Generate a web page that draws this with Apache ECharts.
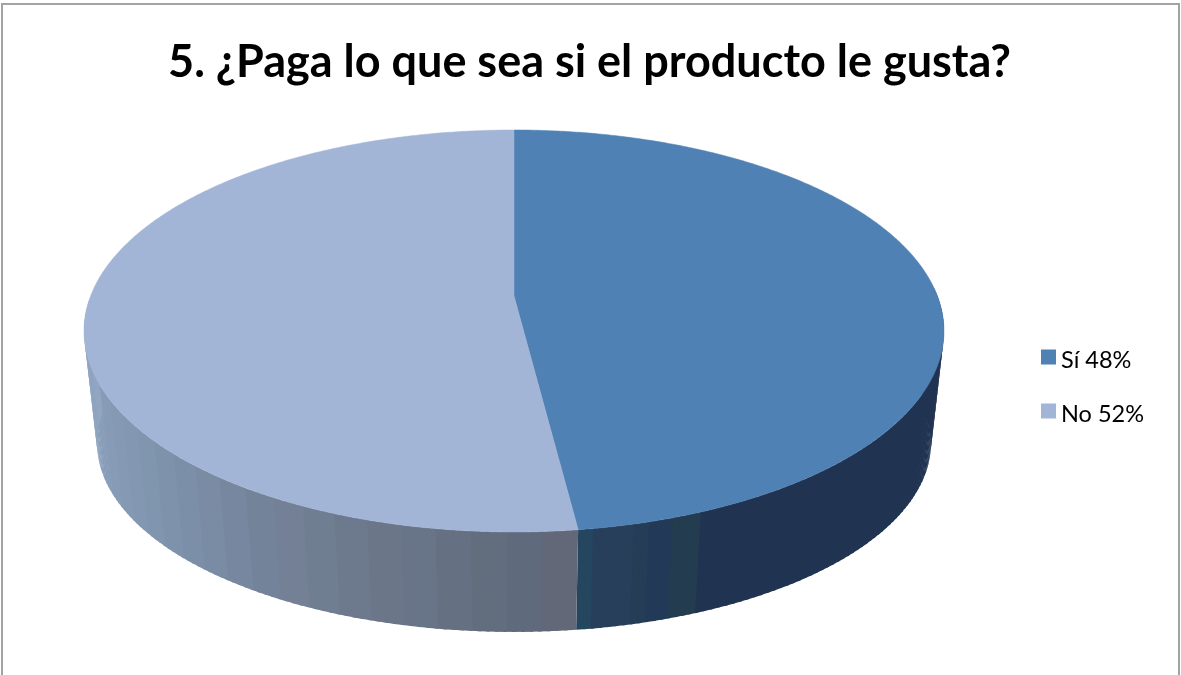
<!DOCTYPE html>
<html>
<head>
<meta charset="utf-8">
<script src="https://cdn.jsdelivr.net/npm/echarts@6/dist/echarts.min.js"></script>
<style>html,body{margin:0;padding:0;background:#fff;overflow:hidden}#c{width:1181px;height:675px}</style>
</head>
<body>
<div id="c"></div>
<script>
const titleText = '5. ¿Paga lo que sea si el producto le gusta?';
const categories = ['Sí 48%', 'No 52%'];
const shares = [48, 52];
const topColors = ['#4f81b4', '#a2b5d6'];

// Side-wall shading: each band is [angle it runs to, colour], going away from the slice edge.
const wallBandsSi = [
  [171.1, '#24465f'], [166.4, '#273f5b'], [164.6, '#253d56'],
  [161.8, '#223a57'], [158.3, '#243c50'], [88, '#203452']
];
const wallColoursNo = [
  '#636879', '#5f6a7c', '#626d7e', '#657082', '#687487', '#6b7689', '#6d7a8d', '#707e91',
  '#738096', '#73849a', '#7787a0', '#7a8ba4', '#7c8fa8', '#7f92ab', '#8095ae', '#8397b2',
  '#8599b3', '#879bb7', '#889eb8', '#8b9fbb', '#8ba1bc', '#8ea3bf', '#8fa4c0', '#92a6c3'
];

// Perspective projection of the disc's top and bottom faces.
const PERSPECTIVE = 0.174;
const topFace = { cx: 514, cy: 296, rx: 423.4, ry: 194.9 };
const bottomFace = { cx: 514, cy: 410, rx: 410.6, ry: 183.3 };
function project(face, deg) {
  const t = deg * Math.PI / 180, u = Math.sin(t), v = -Math.cos(t), d = 1 - PERSPECTIVE * v;
  return [face.cx + face.rx * u / d, face.cy + face.ry * v / d];
}
const total = shares.reduce((a, b) => a + b, 0);
const starts = shares.map((s, i) => shares.slice(0, i).reduce((a, b) => a + b, 0) * 360 / total);
const ends = shares.map((s, i) => starts[i] + s * 360 / total);

function arc(face, a, b) {
  const n = Math.max(2, Math.ceil(Math.abs(b - a) * 2)), pts = [];
  for (let i = 0; i <= n; i++) pts.push(project(face, a + (b - a) * i / n));
  return pts;
}
// A band is cut into thin quads, painted overlapping, so their union reaches the true
// outline of the disc without seams.
function wallPiece(a, b, color) {
  const n = Math.max(1, Math.ceil(Math.abs(b - a))), dir = Math.sign(b - a), out = [];
  for (let i = 0; i < n; i++) {
    const p = a + (b - a) * i / n, q = a + (b - a) * (i + 1) / n + dir * 0.4;
    out.push({ type: 'polygon',
      shape: { points: [project(topFace, p), project(topFace, q), project(bottomFace, q), project(bottomFace, p)] },
      style: { fill: color } });
  }
  return out;
}
function wallPieces(index) {
  let out = [];
  if (index === 0) {
    let a = ends[0];
    wallBandsSi.forEach(b => { out = out.concat(wallPiece(a, b[0], b[1])); a = b[0]; });
  } else {
    const step = 4;
    wallColoursNo.forEach((c, i) => {
      out = out.concat(wallPiece(starts[1] + i * step, starts[1] + (i + 1) * step, c));
    });
  }
  return out;
}
function topPiece(index) {
  const pts = [[topFace.cx, topFace.cy]].concat(arc(topFace, starts[index], ends[index]));
  return { type: 'polygon', shape: { points: pts },
    style: { fill: topColors[index], stroke: topColors[index], lineWidth: 0.5 } };
}

const series = [];
categories.forEach((name, i) => {
  series.push({
    type: 'custom', name: name + ' lateral', coordinateSystem: 'none', silent: true, z: 2,
    data: [[shares[i]]],
    renderItem: () => ({ type: 'group', children: wallPieces(i) })
  });
});
categories.forEach((name, i) => {
  series.push({
    type: 'custom', name: name, coordinateSystem: 'none', silent: true, z: 3,
    itemStyle: { color: topColors[i] },
    data: [[shares[i]]],
    renderItem: () => topPiece(i)
  });
});

const chart = echarts.init(document.getElementById('c'), null, { renderer: 'canvas' });
chart.setOption({
  animation: false,
  backgroundColor: '#ffffff',
  title: {
    text: titleText, left: 584.5, top: 35, textAlign: 'center',
    textStyle: { fontFamily: 'Lato', fontWeight: 'bold', fontSize: 45, color: '#000000' }
  },
  legend: {
    data: categories, orient: 'vertical', left: 1041, top: 342, padding: 0, selectedMode: false,
    icon: 'rect', itemWidth: 15, itemHeight: 15, itemGap: 24,
    textStyle: {
      fontFamily: 'Lato', fontSize: 23.5, color: '#000000',
      rich: { t: { fontFamily: 'Lato', fontSize: 23.5, color: '#000000', lineHeight: 24, padding: [6, 0, 0, 0] } }
    },
    formatter: n => '{t|' + n + '}'
  },
  graphic: [{
    type: 'polyline', silent: true, z: 10,
    shape: { points: [[2, 675], [2, 4], [1179, 4], [1179, 675]] },
    style: { stroke: '#a3a3a3', lineWidth: 2, fill: null }
  }],
  series: series
});
</script>
</body>
</html>
